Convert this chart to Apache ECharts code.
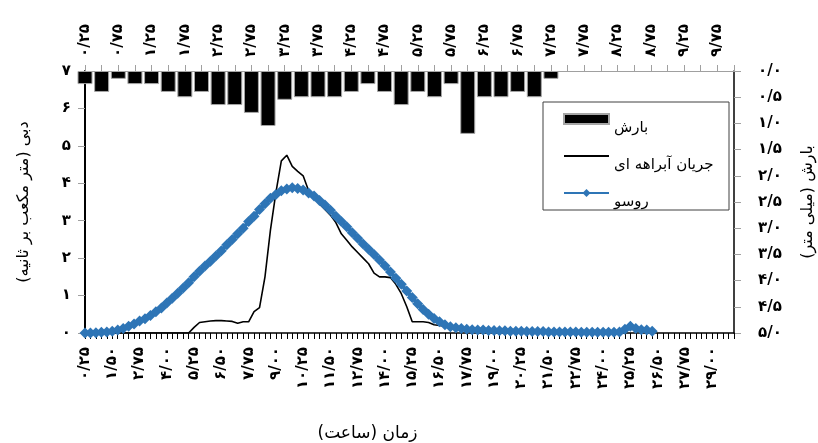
<!DOCTYPE html>
<html>
<head>
<meta charset="utf-8">
<script src="https://cdn.jsdelivr.net/npm/echarts@6/dist/echarts.min.js"></script>
<style>
  html, body { margin: 0; padding: 0; background: #fff; }
  #main { width: 818px; height: 443px; }
</style>
</head>
<body>
<div id="main"></div>
<script>
// time steps (hours), 0.25 h apart
var bottomTimes = [];
for (var i = 1; i <= 120; i++) bottomTimes.push(i * 0.25);
var topTimes = [];
for (var j = 1; j <= 40; j++) topTimes.push(j * 0.25);

// rainfall (mm) per 0.25 h, from 0.25 h
var rain = [0.25, 0.4, 0.15, 0.25, 0.25, 0.4, 0.5, 0.4, 0.65, 0.65,
  0.8, 1.05, 0.55, 0.5, 0.5, 0.5, 0.4, 0.25, 0.4, 0.65,
  0.4, 0.5, 0.25, 1.2, 0.5, 0.5, 0.4, 0.5, 0.15];

// observed stream flow (m3/s)
var observed = [0, 0, 0, 0, 0, 0, 0, 0, 0, 0,
  0, 0, 0, 0, 0, 0, 0, 0, 0, 0,
  0.15, 0.28, 0.3, 0.32, 0.33, 0.33, 0.32, 0.31, 0.26, 0.3,
  0.3, 0.57, 0.68, 1.5, 2.75, 3.75, 4.6, 4.75, 4.45, 4.32,
  4.2, 3.8, 3.6, 3.45, 3.3, 3.15, 2.95, 2.65, 2.48, 2.3,
  2.15, 2.0, 1.85, 1.6, 1.5, 1.5, 1.48, 1.3, 1.05, 0.7,
  0.3, 0.3, 0.3, 0.28, 0.22, 0.2, 0.18, 0.17, 0.16, 0.15,
  0.14, 0.13, 0.12, 0.11, 0.1, 0.08, 0.06, 0.04, 0.02, 0];

// Rousseau model (m3/s)
var rousseau = [0, 0, 0.01, 0.02, 0.03, 0.05, 0.08, 0.12, 0.18, 0.24,
  0.32, 0.38, 0.47, 0.57, 0.67, 0.8, 0.93, 1.06, 1.2, 1.34,
  1.5, 1.65, 1.79, 1.92, 2.06, 2.2, 2.36, 2.5, 2.65, 2.8,
  2.98, 3.12, 3.3, 3.45, 3.6, 3.7, 3.8, 3.85, 3.88, 3.86,
  3.82, 3.74, 3.66, 3.54, 3.42, 3.28, 3.12, 2.98, 2.84, 2.68,
  2.53, 2.38, 2.24, 2.1, 1.95, 1.8, 1.63, 1.46, 1.3, 1.12,
  0.95, 0.78, 0.63, 0.5, 0.39, 0.3, 0.22, 0.17, 0.14, 0.12,
  0.1, 0.09, 0.08, 0.08, 0.07, 0.07, 0.06, 0.06, 0.05, 0.05,
  0.05, 0.04, 0.04, 0.04, 0.04, 0.03, 0.03, 0.03, 0.03, 0.03,
  0.03, 0.02, 0.02, 0.02, 0.02, 0.02, 0.02, 0.02, 0.03, 0.1,
  0.18, 0.12, 0.09, 0.08, 0.05];

var FONT = 'DejaVu Sans';

function fa(s) {
  return String(s).replace(/\d/g, function (d) { return '۰۱۲۳۴۵۶۷۸۹'[d]; }).replace('.', '/');
}

var chart = echarts.init(document.getElementById('main'), null, { renderer: 'canvas' });

var option = {
  animation: false,
  textStyle: { fontFamily: FONT },
  grid: { left: 85, right: 84, top: 71, bottom: 110, outerBoundsMode: 'none' },
  legend: {
    orient: 'vertical',
    left: 558,
    top: 96,
    itemWidth: 45,
    itemHeight: 10,
    itemGap: 1,
    textStyle: { fontFamily: FONT, fontSize: 15, color: '#000', lineHeight: 18 },
    formatter: function (name) { return '\n' + name; },
    data: [
      { name: 'بارش', icon: 'rect' },
      { name: 'جریان آبراهه ای', itemStyle: { opacity: 0 } },
      { name: 'روسو' }
    ]
  },
  graphic: [{
    type: 'rect',
    shape: { x: 543, y: 102, width: 186, height: 108 },
    style: { fill: 'none', stroke: '#404040', lineWidth: 1 },
    z: 1
  }],
  xAxis: [{
    type: 'category',
    position: 'bottom',
    data: bottomTimes,
    boundaryGap: false,
    name: 'زمان (ساعت)',
    nameLocation: 'middle',
    nameGap: 92,
    nameTextStyle: { fontFamily: FONT, fontSize: 17, color: '#000', padding: [0, 84, 0, 0] },
    axisLine: { lineStyle: { color: '#000', width: 1.5 } },
    axisTick: { interval: 0, length: 6, lineStyle: { color: '#000' } },
    axisLabel: {
      interval: 4, rotate: 90, margin: 14,
      fontFamily: FONT, fontSize: 15, fontWeight: 'bold', color: '#000',
      formatter: function (v) { return fa(Number(v).toFixed(2)); }
    },
    splitLine: { show: false }
  }, {
    type: 'category',
    position: 'top',
    data: topTimes,
    boundaryGap: false,
    axisLine: { lineStyle: { color: '#a0a0a0', width: 1 } },
    axisTick: { interval: 0, length: 6, lineStyle: { color: '#a0a0a0' } },
    axisLabel: {
      interval: 1, rotate: 90, margin: 14,
      fontFamily: FONT, fontSize: 15, fontWeight: 'bold', color: '#000',
      formatter: function (v) { return fa(Number(v).toFixed(2)); }
    },
    splitLine: { show: false }
  }],
  yAxis: [{
    type: 'value',
    min: 0, max: 7, interval: 1,
    name: 'دبی (متر مکعب بر ثانیه)',
    nameLocation: 'middle',
    nameRotate: 90,
    nameGap: 53,
    nameTextStyle: { fontFamily: FONT, fontSize: 16, color: '#000' },
    axisLine: { show: true, lineStyle: { color: '#000', width: 2 } },
    axisTick: { show: true, length: 7, lineStyle: { color: '#a0a0a0' } },
    axisLabel: {
      margin: 14, fontFamily: FONT, fontSize: 15, fontWeight: 'bold', color: '#000',
      formatter: function (v) { return fa(v); }
    },
    splitLine: { show: false }
  }, {
    type: 'value',
    inverse: true,
    min: 0, max: 5, interval: 0.5,
    name: 'بارش (میلی متر)',
    nameLocation: 'middle',
    nameRotate: 90,
    nameGap: 66,
    nameTextStyle: { fontFamily: FONT, fontSize: 16, color: '#000' },
    axisLine: { show: true, lineStyle: { color: '#000', width: 1.5 } },
    axisTick: { show: true, length: 7, lineStyle: { color: '#a0a0a0' } },
    axisLabel: {
      margin: 24, fontFamily: FONT, fontSize: 15, fontWeight: 'bold', color: '#000',
      formatter: function (v) { return fa(v.toFixed(1)); }
    },
    splitLine: { show: false }
  }],
  series: [{
    name: 'بارش',
    type: 'bar',
    xAxisIndex: 1,
    yAxisIndex: 1,
    data: rain,
    barWidth: 15,
    clip: true,
    itemStyle: { color: '#000', borderColor: '#a6a6a6', borderWidth: 1 }
  }, {
    name: 'جریان آبراهه ای',
    type: 'line',
    xAxisIndex: 0,
    yAxisIndex: 0,
    data: observed,
    symbol: 'none',
    lineStyle: { color: '#000', width: 1.6 },
    itemStyle: { color: '#000' }
  }, {
    name: 'روسو',
    type: 'line',
    xAxisIndex: 0,
    yAxisIndex: 0,
    data: rousseau,
    symbol: 'diamond',
    symbolSize: 11,
    showAllSymbol: true,
    lineStyle: { color: '#2e75b6', width: 4 },
    itemStyle: { color: '#2e75b6' }
  }]
};

chart.setOption(option);
</script>
</body>
</html>
